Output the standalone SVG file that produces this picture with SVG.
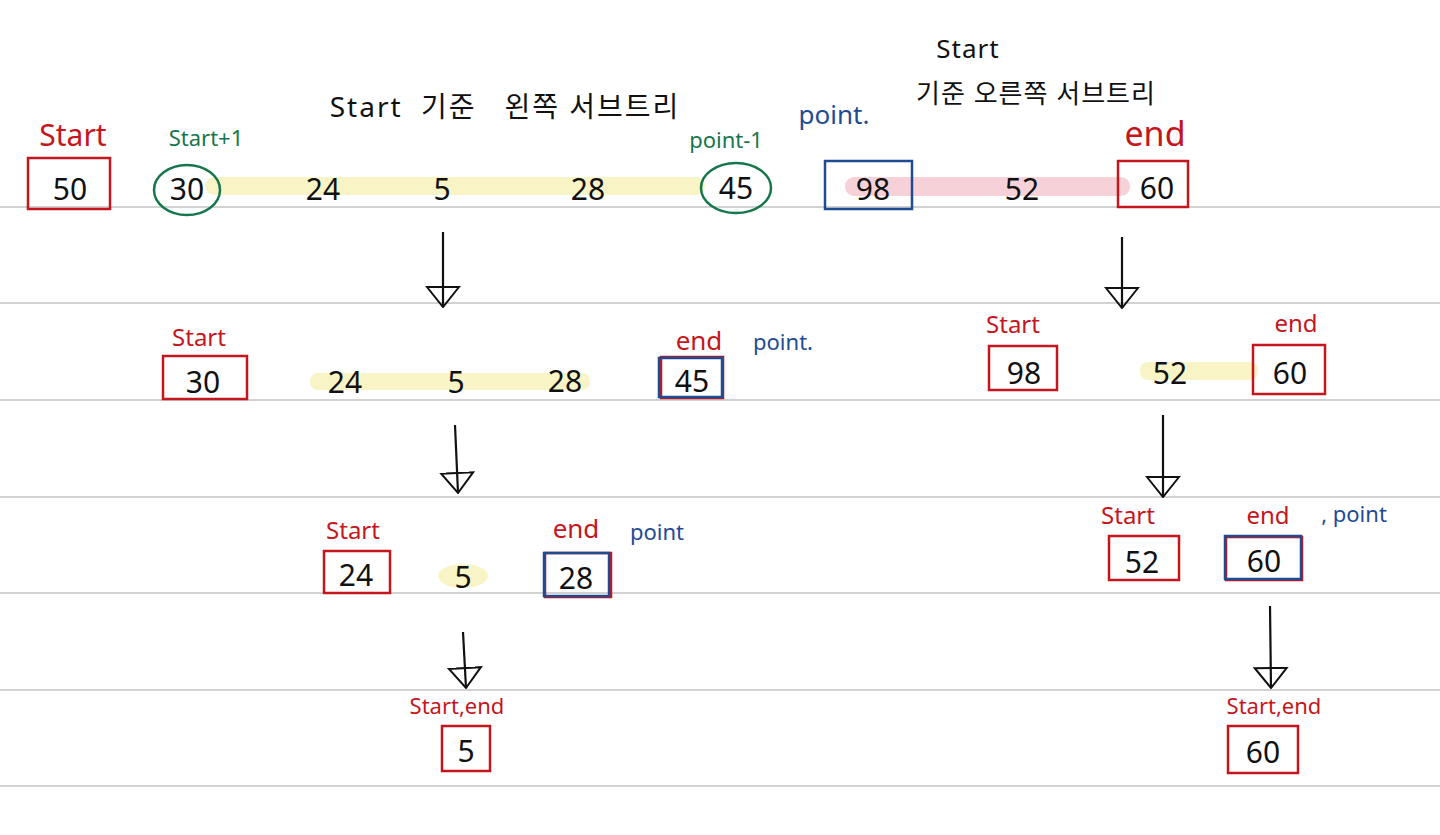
<svg xmlns="http://www.w3.org/2000/svg" width="1440" height="835" viewBox="0 0 1440 835">
<style>
.num{font-family:"Noto Sans",sans-serif;font-size:30px;fill:#111;text-anchor:middle}
.red{fill:#c4161c;font-family:"Noto Sans",sans-serif}
.grn{fill:#17774c;font-family:"Noto Sans",sans-serif}
.blu{fill:#1f4b93;font-family:"Noto Sans",sans-serif}
.blk{fill:#111;font-family:"Noto Sans","Noto Sans CJK KR",sans-serif}
.rbox{fill:none;stroke:#c4161c;stroke-width:2.5}
.bbox{fill:none;stroke:#1f4b93;stroke-width:2.5}
.gell{fill:none;stroke:#17774c;stroke-width:2.5}
.rule{stroke:#d2d2d2;stroke-width:2}
.arr{stroke:#111;stroke-width:2.2;fill:none}
.yel{fill:#f8f4c6}
.pnk{fill:#f6d2d8}
</style>
<defs>
<marker id="head" viewBox="0 0 22 36" refX="21" refY="18" markerWidth="22" markerHeight="36" markerUnits="userSpaceOnUse" orient="auto">
<path d="M1,2 L21,18 L1,34 Z" fill="none" stroke="#111" stroke-width="2"/>
</marker>
</defs>
<g id="rules">
<line class="rule" x1="0" y1="207" x2="1440" y2="207"/>
<line class="rule" x1="0" y1="303" x2="1440" y2="303"/>
<line class="rule" x1="0" y1="400" x2="1440" y2="400"/>
<line class="rule" x1="0" y1="497" x2="1440" y2="497"/>
<line class="rule" x1="0" y1="593" x2="1440" y2="593"/>
<line class="rule" x1="0" y1="690" x2="1440" y2="690"/>
<line class="rule" x1="0" y1="786" x2="1440" y2="786"/>
</g>
<g id="highlights">
<rect class="yel" x="205" y="177" width="500" height="18" rx="9"/>
<rect class="pnk" x="845" y="177" width="285" height="19" rx="9"/>
<rect class="yel" x="310" y="373" width="280" height="17" rx="8"/>
<rect class="yel" x="1140" y="362" width="118" height="18" rx="8"/>
<ellipse class="yel" cx="463" cy="576" rx="25" ry="12"/>
</g>
<g id="titles">
<text class="blk" x="505" y="117" font-size="28" letter-spacing="2" text-anchor="middle" xml:space="preserve">Start  기준   왼쪽 서브트리</text>
<text class="blk" x="968" y="58" font-size="26" letter-spacing="1" text-anchor="middle">Start</text>
<text class="blk" x="1036" y="103" font-size="26" letter-spacing="1" text-anchor="middle">기준 오른쪽 서브트리</text>
</g>
<g id="row1">
<g id="n50"><text class="red" x="73" y="146" font-size="30" text-anchor="middle">Start</text><rect class="rbox" x="28" y="158" width="82" height="51"/><text class="num" x="70" y="200">50</text></g>
<g id="n30a"><text class="grn" x="206" y="146" font-size="22" text-anchor="middle">Start+1</text><ellipse class="gell" cx="187" cy="190" rx="33" ry="25"/><text class="num" x="187" y="200">30</text></g>
<g id="n24a"><text class="num" x="323" y="200">24</text></g>
<g id="n5a"><text class="num" x="442" y="200">5</text></g>
<g id="n28a"><text class="num" x="588" y="200">28</text></g>
<g id="n45a"><text class="grn" x="726" y="148" font-size="22" text-anchor="middle">point-1</text><ellipse class="gell" cx="736" cy="188" rx="35" ry="25"/><text class="num" x="736" y="199">45</text></g>
<g id="n98a"><text class="blu" x="834" y="124" font-size="26" text-anchor="middle">point.</text><rect class="bbox" x="825" y="161" width="87" height="48"/><text class="num" x="873" y="200">98</text></g>
<g id="n52a"><text class="num" x="1022" y="200">52</text></g>
<g id="n60a"><text class="red" x="1155" y="146" font-size="34" text-anchor="middle">end</text><rect class="rbox" x="1118" y="161" width="70" height="46"/><text class="num" x="1157" y="199">60</text></g>
</g>
<g id="row2">
<g id="n30b"><text class="red" x="199" y="346" font-size="24" text-anchor="middle">Start</text><rect class="rbox" x="163" y="356" width="84" height="43"/><text class="num" x="203" y="393">30</text></g>
<g id="n24b"><text class="num" x="345" y="393">24</text></g>
<g id="n5b"><text class="num" x="456" y="393">5</text></g>
<g id="n28b"><text class="num" x="565" y="392">28</text></g>
<g id="n45b"><text class="red" x="699" y="350" font-size="26" text-anchor="middle">end</text><rect class="rbox" x="661" y="357" width="62" height="41"/><rect class="bbox" x="659" y="358" width="63" height="39"/><text class="num" x="692" y="392">45</text></g>
<g id="p2"><text class="blu" x="783" y="350" font-size="22" text-anchor="middle">point.</text></g>
<g id="n98b"><text class="red" x="1013" y="333" font-size="24" text-anchor="middle">Start</text><rect class="rbox" x="989" y="346" width="68" height="44"/><text class="num" x="1024" y="384">98</text></g>
<g id="n52b"><text class="num" x="1170" y="384">52</text></g>
<g id="n60b"><text class="red" x="1296" y="332" font-size="24" text-anchor="middle">end</text><rect class="rbox" x="1253" y="345" width="72" height="49"/><text class="num" x="1290" y="384">60</text></g>
</g>
<g id="row3">
<g id="n24c"><text class="red" x="353" y="539" font-size="24" text-anchor="middle">Start</text><rect class="rbox" x="324" y="551" width="66" height="42"/><text class="num" x="356" y="586">24</text></g>
<g id="n5c"><text class="num" x="463" y="588">5</text></g>
<g id="n28c"><text class="red" x="576" y="538" font-size="26" text-anchor="middle">end</text><rect class="rbox" x="545" y="553" width="66" height="44"/><rect class="bbox" x="544" y="553" width="65" height="43"/><text class="num" x="576" y="589">28</text></g>
<g id="p3"><text class="blu" x="657" y="540" font-size="22" text-anchor="middle">point</text></g>
<g id="n52c"><text class="red" x="1128" y="524" font-size="24" text-anchor="middle">Start</text><rect class="rbox" x="1109" y="536" width="70" height="44"/><text class="num" x="1142" y="573">52</text></g>
<g id="n60c"><text class="red" x="1268" y="524" font-size="24" text-anchor="middle">end</text><rect class="rbox" x="1226" y="537" width="76" height="43"/><rect class="bbox" x="1225" y="536" width="76" height="43"/><text class="num" x="1264" y="572">60</text></g>
<g id="p3r"><text class="blu" x="1354" y="522" font-size="22" text-anchor="middle">, point</text></g>
</g>
<g id="row4">
<g id="n5d"><text class="red" x="457" y="714" font-size="22" text-anchor="middle">Start,end</text><rect class="rbox" x="442" y="726" width="48" height="45"/><text class="num" x="466" y="762">5</text></g>
<g id="n60d"><text class="red" x="1274" y="714" font-size="22" text-anchor="middle">Start,end</text><rect class="rbox" x="1228" y="726" width="70" height="47"/><text class="num" x="1263" y="763">60</text></g>
</g>
<g id="connectors">
<line class="arr" x1="443" y1="232" x2="443" y2="307" marker-end="url(#head)"/>
<line class="arr" x1="1122" y1="237" x2="1122" y2="308" marker-end="url(#head)"/>
<line class="arr" x1="455" y1="425" x2="458" y2="493" marker-end="url(#head)"/>
<line class="arr" x1="1163" y1="415" x2="1163" y2="497" marker-end="url(#head)"/>
<line class="arr" x1="463" y1="632" x2="466" y2="688" marker-end="url(#head)"/>
<line class="arr" x1="1270" y1="606" x2="1271" y2="688" marker-end="url(#head)"/>
</g>
</svg>
